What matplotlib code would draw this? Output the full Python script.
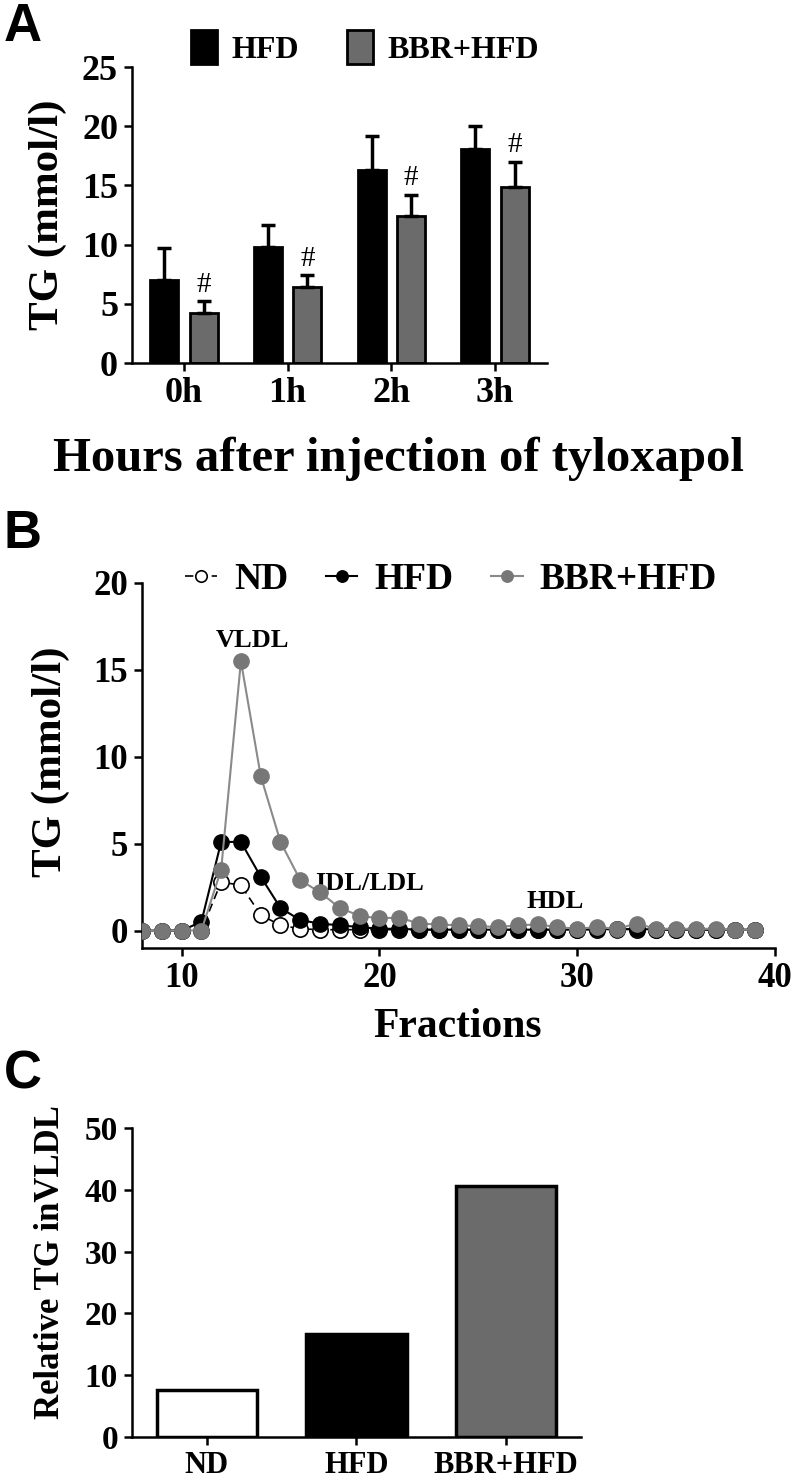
import matplotlib.pyplot as plt
import numpy as np

# ---- data ----
hours = ['0h', '1h', '2h', '3h']
hfd_tg = [7.0, 9.8, 16.3, 18.1]
hfd_err = [2.7, 1.9, 2.9, 1.9]
bbr_tg = [4.2, 6.4, 12.4, 14.9]
bbr_err = [1.0, 1.0, 1.8, 2.1]

fractions = list(range(8, 40))
nd_frac = [0, 0, 0, 0, 2.8, 2.6, 0.9, 0.3, 0.1, 0.05, 0.05, 0.05, 0.05, 0.05,
           0.05, 0.05, 0.05, 0.05, 0.05, 0.05, 0.05, 0.05, 0.05, 0.05, 0.1,
           0.05, 0.05, 0.05, 0.05, 0.05, 0.05, 0.05]
hfd_frac = [0, 0, 0, 0.5, 5.1, 5.1, 3.1, 1.3, 0.6, 0.4, 0.3, 0.2, 0.1, 0.1,
            0.05, 0.05, 0.05, 0.05, 0.05, 0.05, 0.05, 0.05, 0.05, 0.1, 0.05,
            0.1, 0.05, 0.05, 0.05, 0.05, 0.05, 0.05]
bbr_frac = [0, 0, 0, 0, 3.5, 15.5, 8.9, 5.1, 2.9, 2.2, 1.3, 0.85, 0.7, 0.75,
            0.4, 0.35, 0.3, 0.25, 0.2, 0.3, 0.35, 0.2, 0.1, 0.2, 0.1, 0.4,
            0.1, 0.1, 0.1, 0.1, 0.05, 0.05]

groups = ['ND', 'HFD', 'BBR+HFD']
rel_vldl = [7.6, 16.7, 40.6]

# ---- style ----
SERIF = 'Liberation Serif'
GRAY = '#6b6b6b'
plt.rcParams['font.family'] = SERIF
plt.rcParams['font.weight'] = 'bold'
plt.rcParams['axes.linewidth'] = 1.8


def style_axis(ax, fs=25):
    ax.spines['top'].set_visible(False)
    ax.spines['right'].set_visible(False)
    ax.tick_params(direction='out', length=6, width=1.8, labelsize=fs, pad=4)
    for lab in ax.get_xticklabels() + ax.get_yticklabels():
        lab.set_fontweight('bold')


fig = plt.figure(figsize=(7.97, 14.83), dpi=100)

# ============== Panel A ==============
axA = fig.add_axes([0.1656, 0.7552, 0.5207, 0.1996])
x = np.arange(len(hours))
w = 0.27
off = 0.19
ekw = dict(ecolor='black', elinewidth=2.5, capsize=5, capthick=2.5)
bA1 = axA.bar(x - off, hfd_tg, w, color='black', edgecolor='black', linewidth=2,
              yerr=[np.zeros(4), hfd_err], error_kw=ekw)
bA2 = axA.bar(x + off, bbr_tg, w, color=GRAY, edgecolor='black', linewidth=2,
              yerr=[np.zeros(4), bbr_err], error_kw=ekw)
for xi, v, e in zip(x, bbr_tg, bbr_err):
    axA.text(xi + off, v + e + 0.3, '#', ha='center', va='bottom', fontsize=21,
             fontweight='normal')
axA.set_xlim(-0.5, 3.5)
axA.set_ylim(0, 25)
axA.set_yticks([0, 5, 10, 15, 20, 25])
axA.set_xticks(x)
axA.set_xticklabels(hours)
style_axis(axA, 26)
axA.set_ylabel('TG (mmol/l)', fontsize=31, fontweight='bold')
axA.yaxis.set_label_coords(-0.157, 0.5)
axA.set_xlabel('Hours after injection of tyloxapol', fontsize=35, fontweight='bold')
axA.xaxis.set_label_coords(0.643, -0.25)
axA.legend([bA1, bA2], ['HFD', 'BBR+HFD'], loc='center', ncol=2, frameon=False,
           bbox_to_anchor=(0.458, 0.968), bbox_transform=fig.transFigure,
           prop={'family': SERIF, 'weight': 'bold', 'size': 23},
           handlelength=0.82, handleheight=1.25, handletextpad=0.45, columnspacing=1.5)

# ============== Panel B ==============
axB = fig.add_axes([0.1782, 0.3608, 0.7942, 0.2461])
axB.plot(fractions, nd_frac, color='black', linestyle=(0, (5, 3)), linewidth=1.2,
         marker='o', markersize=11, markerfacecolor='white', markeredgecolor='black',
         markeredgewidth=1.2, label='ND', zorder=2)
axB.plot(fractions, hfd_frac, color='black', linewidth=1.5, marker='o', markersize=11,
         markerfacecolor='black', markeredgecolor='black', label='HFD', zorder=3)
axB.plot(fractions, bbr_frac, color='#8a8a8a', linewidth=1.5, marker='o',
         markersize=11, markerfacecolor='#777777', markeredgecolor='#777777',
         label='BBR+HFD', zorder=4)
axB.text(13.6, 16.7, 'VLDL', ha='center', va='center', fontsize=19, fontweight='bold')
axB.text(19.5, 2.7, 'IDL/LDL', ha='center', va='center', fontsize=19, fontweight='bold')
axB.text(28.9, 1.7, 'HDL', ha='center', va='center', fontsize=19, fontweight='bold')
axB.set_xlim(8, 40)
axB.set_ylim(-1, 20)
axB.set_xticks([10, 20, 30, 40])
axB.set_yticks([0, 5, 10, 15, 20])
style_axis(axB, 25)
axB.set_ylabel('TG (mmol/l)', fontsize=31, fontweight='bold')
axB.yaxis.set_label_coords(-0.113, 0.51)
axB.set_xlabel('Fractions', fontsize=30, fontweight='bold')
axB.xaxis.set_label_coords(0.498, -0.165)
axB.legend(loc='center', ncol=3, frameon=False,
           bbox_to_anchor=(0.566, 0.609), bbox_transform=fig.transFigure,
           prop={'family': SERIF, 'weight': 'bold', 'size': 27},
           handlelength=0.85, handletextpad=0.45, columnspacing=1.0, markerscale=0.75)

# ============== Panel C ==============
axC = fig.add_axes([0.1656, 0.031, 0.5634, 0.2084])
xc = np.arange(len(groups))
axC.bar(xc, rel_vldl, 0.67, color=['white', 'black', GRAY], edgecolor='black',
        linewidth=2.5)
axC.set_xlim(-0.5, 2.5)
axC.set_ylim(0, 50)
axC.set_yticks([0, 10, 20, 30, 40, 50])
axC.set_xticks(xc)
axC.set_xticklabels(groups)
style_axis(axC, 24)
for lab in axC.get_xticklabels():
    lab.set_fontsize(22)
axC.set_ylabel('Relative TG inVLDL', fontsize=25, fontweight='bold')
axC.yaxis.set_label_coords(-0.145, 0.566)

# panel letters
for letter, yy in [('A', 0.9985), ('B', 0.6565), ('C', 0.2925)]:
    fig.text(0.005, yy, letter, ha='left', va='top', fontsize=38, fontweight='bold',
             family='Liberation Sans')

fig.savefig('out.png', dpi=100)
